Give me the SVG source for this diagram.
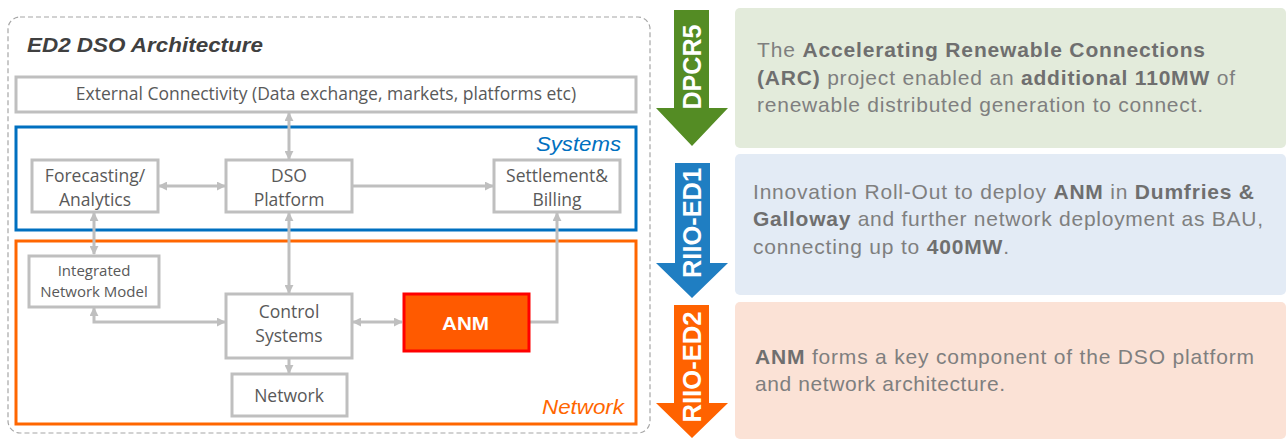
<svg xmlns="http://www.w3.org/2000/svg" width="1286" height="439" viewBox="0 0 1286 439">
  <style>
    .box { fill: #ffffff; stroke: #bfbfbf; stroke-width: 3; }
    .lbl { font-family: "Open Sans", "Liberation Sans", sans-serif; font-size: 17.5px; fill: #595959; text-anchor: middle; }
    .sm { font-size: 15px; }
    .conn { fill: none; stroke: #bfbfbf; stroke-width: 3; }
    .body { font-family: "Liberation Sans", Arial, sans-serif; font-size: 21px; fill: #7f7f7f; }
    .body tspan.b { font-weight: bold; fill: #6f6f6f; }
    .vert { font-family: "Liberation Sans", Arial, sans-serif; font-size: 25px; font-weight: bold; fill: #ffffff; text-anchor: middle; }
  </style>
  <defs>
    <marker id="ah" viewBox="0 0 10 10" refX="9" refY="5" markerWidth="9" markerHeight="9" markerUnits="userSpaceOnUse" orient="auto-start-reverse">
      <path d="M0,0 L10,5 L0,10 z" fill="#bfbfbf"/>
    </marker>
  </defs>

  <!-- architecture frame -->
  <rect x="8" y="17" width="642" height="416" rx="12" fill="#ffffff" stroke="#a6a6a6" stroke-width="1.2" stroke-dasharray="5,3"/>
  <text x="27" y="52" font-family="Liberation Sans, Arial, sans-serif" font-size="20" font-weight="bold" font-style="italic" fill="#404040" textLength="236" lengthAdjust="spacingAndGlyphs">ED2 DSO Architecture</text>

  <!-- layer frames -->
  <g id="systems-layer">
    <rect x="16" y="127" width="620" height="103" fill="none" stroke="#0070c0" stroke-width="3"/>
    <text x="536" y="151" font-family="Liberation Sans, Arial, sans-serif" font-size="21" font-style="italic" fill="#0070c0" textLength="85" lengthAdjust="spacingAndGlyphs">Systems</text>
  </g>
  <g id="network-layer">
    <rect x="16" y="241" width="620" height="183" fill="none" stroke="#ff6600" stroke-width="3"/>
    <text x="542" y="414" font-family="Liberation Sans, Arial, sans-serif" font-size="21" font-style="italic" fill="#ff6600" textLength="82" lengthAdjust="spacingAndGlyphs">Network</text>
  </g>

  <!-- connectors -->
  <g id="connectors">
    <line class="conn" x1="289" y1="113" x2="289" y2="159" marker-start="url(#ah)" marker-end="url(#ah)"/>
    <line class="conn" x1="159" y1="186" x2="225" y2="186" marker-start="url(#ah)" marker-end="url(#ah)"/>
    <line class="conn" x1="353" y1="186" x2="493" y2="186" marker-end="url(#ah)"/>
    <line class="conn" x1="94" y1="213" x2="94" y2="254" marker-start="url(#ah)" marker-end="url(#ah)"/>
    <line class="conn" x1="289" y1="213" x2="289" y2="293" marker-start="url(#ah)" marker-end="url(#ah)"/>
    <polyline class="conn" points="94,308 94,322 225,322" marker-start="url(#ah)" marker-end="url(#ah)"/>
    <line class="conn" x1="353" y1="322" x2="402" y2="322" marker-start="url(#ah)" marker-end="url(#ah)"/>
    <polyline class="conn" points="530,322 557,322 557,213" marker-end="url(#ah)"/>
    <line class="conn" x1="289" y1="359" x2="289" y2="373" marker-end="url(#ah)"/>
  </g>

  <!-- nodes -->
  <g id="external">
    <rect class="box" x="16" y="77" width="620" height="35"/>
    <text class="lbl" x="326" y="100">External Connectivity (Data exchange, markets, platforms etc)</text>
  </g>
  <g id="forecasting">
    <rect class="box" x="32" y="160" width="126" height="52"/>
    <text class="lbl" x="95" y="182">Forecasting/</text>
    <text class="lbl" x="95" y="206">Analytics</text>
  </g>
  <g id="dso-platform">
    <rect class="box" x="226" y="160" width="126" height="52"/>
    <text class="lbl" x="289" y="182">DSO</text>
    <text class="lbl" x="289" y="206">Platform</text>
  </g>
  <g id="settlement">
    <rect class="box" x="494" y="160" width="126" height="52"/>
    <text class="lbl" x="557" y="182">Settlement&amp;</text>
    <text class="lbl" x="557" y="206">Billing</text>
  </g>
  <g id="integrated-model">
    <rect class="box" x="29" y="256" width="130" height="51"/>
    <text class="lbl sm" x="94" y="276">Integrated</text>
    <text class="lbl sm" x="94" y="297">Network Model</text>
  </g>
  <g id="control-systems">
    <rect class="box" x="226" y="294" width="126" height="64"/>
    <text class="lbl" x="289" y="318">Control</text>
    <text class="lbl" x="289" y="342">Systems</text>
  </g>
  <g id="anm">
    <rect x="404" y="294" width="125" height="57" fill="#ff5a00" stroke="#ff0000" stroke-width="3"/>
    <text x="442" y="330" font-family="Liberation Sans, Arial, sans-serif" font-size="19" font-weight="bold" fill="#ffffff" textLength="47" lengthAdjust="spacingAndGlyphs">ANM</text>
  </g>
  <g id="network">
    <rect class="box" x="232" y="374" width="115" height="42"/>
    <text class="lbl" x="289" y="402">Network</text>
  </g>

  <!-- price control timeline -->
  <g id="dpcr5">
    <rect x="735" y="8" width="551" height="140" rx="5" fill="#e3ebdb"/>
    <path d="M674,10 H709 V108 H728 L692,146 L656,108 H674 Z" fill="#548c24"/>
    <text class="vert" transform="translate(701,67) rotate(-90)" textLength="85" lengthAdjust="spacingAndGlyphs">DPCR5</text>
    <text class="body" x="757" y="57" textLength="448" lengthAdjust="spacing">The <tspan class="b">Accelerating Renewable Connections</tspan></text>
    <text class="body" x="757" y="85" textLength="478" lengthAdjust="spacing"><tspan class="b">(ARC)</tspan> project enabled an <tspan class="b">additional 110MW</tspan> of</text>
    <text class="body" x="757" y="112" textLength="446" lengthAdjust="spacing">renewable distributed generation to connect.</text>
  </g>
  <g id="riio-ed1">
    <rect x="735" y="154" width="551" height="141" rx="5" fill="#e3ebf5"/>
    <path d="M675,163 H710 V263 H728 L692,298 L656,263 H675 Z" fill="#1f7ec2"/>
    <text class="vert" transform="translate(701,223) rotate(-90)" textLength="110" lengthAdjust="spacingAndGlyphs">RIIO-ED1</text>
    <text class="body" x="753" y="199" textLength="501" lengthAdjust="spacing">Innovation Roll-Out to deploy <tspan class="b">ANM</tspan> in <tspan class="b">Dumfries &amp;</tspan></text>
    <text class="body" x="753" y="226" textLength="510" lengthAdjust="spacing"><tspan class="b">Galloway</tspan> and further network deployment as BAU,</text>
    <text class="body" x="753" y="254" textLength="256" lengthAdjust="spacing">connecting up to <tspan class="b">400MW</tspan>.</text>
  </g>
  <g id="riio-ed2">
    <rect x="735" y="302" width="551" height="137" rx="5" fill="#fbe2d6"/>
    <path d="M674,305 H709 V403 H728 L692,438 L656,403 H674 Z" fill="#ff6200"/>
    <text class="vert" transform="translate(701,367) rotate(-90)" textLength="111" lengthAdjust="spacingAndGlyphs">RIIO-ED2</text>
    <text class="body" x="755" y="364" textLength="499" lengthAdjust="spacing"><tspan class="b">ANM</tspan> forms a key component of the DSO platform</text>
    <text class="body" x="755" y="391" textLength="250" lengthAdjust="spacing">and network architecture.</text>
  </g>
</svg>
